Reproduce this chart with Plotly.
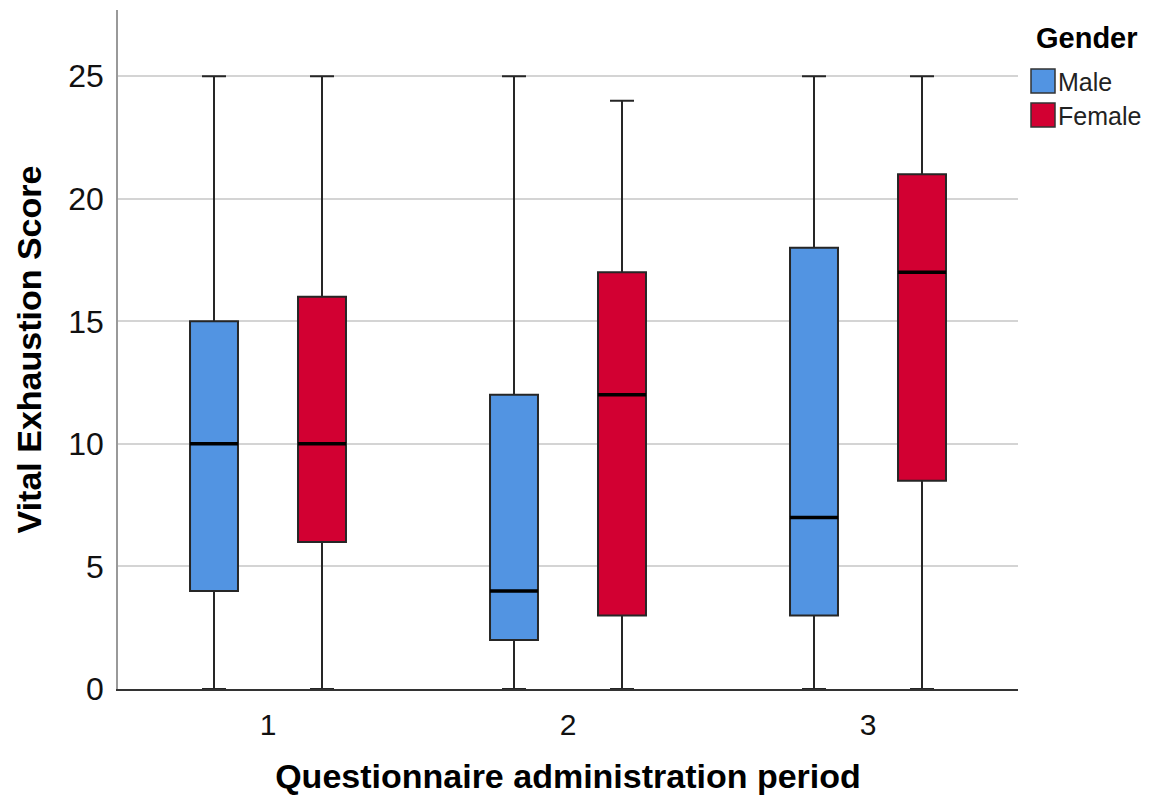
import plotly.graph_objects as go

periods = ["1", "2", "3"]
male_low = [0, 0, 0]
male_q1 = [4, 2, 3]
male_med = [10, 4, 7]
male_q3 = [15, 12, 18]
male_high = [25, 25, 25]
female_low = [0, 0, 0]
female_q1 = [6, 3, 8.5]
female_med = [10, 12, 17]
female_q3 = [16, 17, 21]
female_high = [25, 24, 25]

groups = [
    ("Male", "#5294E2", male_low, male_q1, male_med, male_q3, male_high),
    ("Female", "#D20032", female_low, female_q1, female_med, female_q3, female_high),
]

W, H = 1142, 795
ML, MR, MT, MB = 110, 132, 2, 114
PW, PH = W - ML - MR, H - MT - MB


def px_x(p):  # page pixel -> paper x
    return (p - 8 - ML) / PW


def px_y(p):  # page pixel -> paper y
    return (H - MB + 8 - p) / PH


fig = go.Figure()
for name, color, lo, q1, med, q3, hi in groups:
    fig.add_trace(go.Box(
        name=name, x=periods, q1=q1, median=med, q3=q3,
        lowerfence=lo, upperfence=hi, offsetgroup=name,
        fillcolor=color, line=dict(color="#262626", width=2),
        whiskerwidth=0.5, boxpoints=False, hoverinfo="skip", showlegend=False,
    ))
    # thick median line drawn as a degenerate box at the median value
    fig.add_trace(go.Box(
        name=name + " median", x=periods, q1=med, median=med, q3=med,
        lowerfence=med, upperfence=med, offsetgroup=name,
        fillcolor="rgba(0,0,0,0)", line=dict(color="#000000", width=3.5),
        whiskerwidth=0, boxpoints=False, hoverinfo="skip", showlegend=False,
    ))

shapes = []
annotations = []
# manual legend
annotations.append(dict(
    xref="paper", yref="paper", x=px_x(1087), y=px_y(38), text="<b>Gender</b>",
    showarrow=False, xanchor="center", yanchor="middle",
    font=dict(size=29, color="#000"),
))
sw_tops = [69, 103]
for (name, color, *_), top in zip(groups, sw_tops):
    shapes.append(dict(
        type="rect", xref="paper", yref="paper",
        x0=px_x(1031), x1=px_x(1055), y0=px_y(top + 24), y1=px_y(top),
        fillcolor=color, line=dict(color="#333333", width=1.5),
    ))
    annotations.append(dict(
        xref="paper", yref="paper", x=px_x(1056), y=px_y(top + 13), text=name,
        showarrow=False, xanchor="left", yanchor="middle",
        font=dict(size=25, color="#222"),
    ))

fig.update_layout(
    width=W, height=H,
    margin=dict(l=ML, r=MR, t=MT, b=MB),
    paper_bgcolor="white", plot_bgcolor="white",
    boxmode="group", boxgap=0.28, boxgroupgap=0.556,
    font=dict(family="Liberation Sans, Arial, sans-serif", color="#000"),
    showlegend=False,
    shapes=shapes, annotations=annotations,
    xaxis=dict(
        type="category", range=[-0.5, 2.5], automargin=False,
        showline=True, linecolor="#333", linewidth=1.5,
        ticks="", tickfont=dict(size=30, color="#111"), showgrid=False,
        ticklabelstandoff=8,
        title=dict(text="<b>Questionnaire administration period</b>", font=dict(size=34), standoff=24),
    ),
    yaxis=dict(
        range=[0, 27.7], tickvals=[0, 5, 10, 15, 20, 25], automargin=False,
        showline=True, linecolor="#999", linewidth=1.5,
        showgrid=True, gridcolor="#D4D4D4", gridwidth=1.5,
        zeroline=False, ticks="", tickfont=dict(size=32, color="#111"),
        ticklabelstandoff=6,
        title=dict(text="<b>Vital Exhaustion Score</b>", font=dict(size=34), standoff=16),
    ),
)

fig.write_html("out.html")
